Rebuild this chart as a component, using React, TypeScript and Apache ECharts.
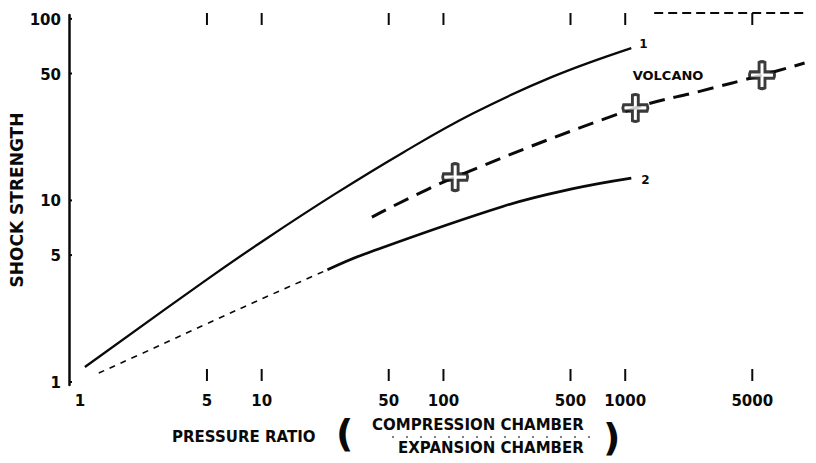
import React, { useEffect, useRef } from "react";
import * as echarts from "echarts";

// ---- data ----
const xTickValues = [5, 10, 50, 100, 500, 1000, 5000];
const xLabelValues = [1, 5, 10, 50, 100, 500, 1000, 5000];
const yLabelValues = [1, 5, 10, 50, 100];

const curve1: number[][] = [
  [1.065, 1.21], [4.92, 3.63], [10.4, 6.08], [25.1, 10.8], [60.4, 18.45],
  [145, 30.1], [396, 47.9], [1080, 69],
];
const curve2Faint: number[][] = [
  [1.27, 1.12], [2.63, 1.56], [4.92, 2.08], [10.4, 2.92], [23, 4.15],
];
const curve2: number[][] = [
  [23, 4.15], [36.6, 5.06], [212, 9.27], [509, 11.57], [1080, 13.27],
];
const volcanoCurve: number[][] = [
  [40.4, 8.1], [116, 13.45], [1137, 32.3], [2600, 40.0], [5657, 49.0], [9700, 57.1],
];
const volcanoPoints: number[][] = [[116, 13.45], [1137, 32.3], [5657, 49.0]];
const topFrame: number[][] = [[1443, 107.7], [11140, 107.7]];

const X_MIN = 0.871;
const X_MAX = 10000;
const Y_MIN = 0.963;
const Y_MAX = 105;

const FONT = "DejaVu Sans";
const INK = "#0a0a0a";

const plusPath =
  "path://M9,0 Q12,-1.5 15,0 L15,9 L24,9 Q25.5,12 24,15 L15,15 L15,24 Q12,25.5 9,24 L9,15 L0,15 Q-1.5,12 0,9 L9,9 Z";

export default function App() {
  const ref = useRef<HTMLDivElement>(null);

  useEffect(() => {
    if (!ref.current) return;
    const chart = echarts.init(ref.current, undefined, { renderer: "svg" });

    const option: any = {
      animation: false,
      backgroundColor: "#ffffff",
      grid: { left: 62, right: 9, top: 15, bottom: 78 },
      xAxis: {
        type: "log",
        logBase: 10,
        min: X_MIN,
        max: X_MAX,
        axisLine: { show: false, onZero: false },
        axisTick: { show: false },
        axisLabel: { show: false },
        splitLine: { show: false },
      },
      yAxis: {
        type: "log",
        logBase: 10,
        min: Y_MIN,
        max: Y_MAX,
        name: "SHOCK STRENGTH",
        nameLocation: "middle",
        nameRotate: 90,
        nameGap: 44,
        nameTextStyle: { fontFamily: FONT, fontWeight: "bold", fontSize: 17, color: INK },
        axisLine: { show: true, onZero: false, lineStyle: { color: INK, width: 2.5 } },
        axisTick: { show: false },
        axisLabel: { show: false },
        splitLine: { show: false },
      },
      series: [
        {
          type: "line",
          data: curve1,
          smooth: 0.4,
          symbol: "none",
          lineStyle: { color: INK, width: 2.3 },
          endLabel: {
            show: true,
            formatter: "1",
            offset: [0, -4],
            fontFamily: FONT,
            fontWeight: "bold",
            fontSize: 12,
            color: INK,
          },
        },
        {
          type: "line",
          data: curve2Faint,
          smooth: 0.4,
          symbol: "none",
          lineStyle: { color: INK, width: 1.6, type: [6, 6] },
        },
        {
          type: "line",
          data: curve2,
          smooth: 0.4,
          symbol: "none",
          lineStyle: { color: INK, width: 2.7 },
          endLabel: {
            show: true,
            formatter: "2",
            offset: [2, 2],
            fontFamily: FONT,
            fontWeight: "bold",
            fontSize: 12,
            color: INK,
          },
        },
        {
          type: "line",
          data: volcanoCurve,
          smooth: 0.4,
          symbol: "none",
          lineStyle: { color: INK, width: 3, type: [16, 9] },
          markPoint: {
            symbol: "circle",
            symbolSize: 0,
            data: [
              {
                coord: [1720, 49],
                label: {
                  show: true,
                  formatter: "VOLCANO",
                  position: "inside",
                  fontFamily: FONT,
                  fontWeight: "bold",
                  fontSize: 13,
                  color: INK,
                },
              },
            ],
          },
        },
        {
          type: "scatter",
          data: volcanoPoints,
          symbol: plusPath,
          symbolSize: [25, 27],
          z: 5,
          itemStyle: { color: "#ffffff", borderColor: INK, borderWidth: 3 },
        },
        {
          type: "line",
          data: topFrame,
          symbol: "none",
          clip: false,
          lineStyle: { color: INK, width: 2, type: [9, 5] },
        },
        {
          type: "custom",
          clip: false,
          data: xLabelValues.map((v) => [v, Y_MIN]),
          renderItem: (params: any, api: any) => {
            const v = api.value(0);
            const b = api.coord([v, Y_MIN]);
            const t = api.coord([v, Y_MAX]);
            const children: any[] = [
              {
                type: "text",
                style: {
                  text: String(v),
                  x: b[0],
                  y: b[1] + 16,
                  align: "center",
                  verticalAlign: "middle",
                  fontFamily: FONT,
                  fontWeight: "bold",
                  fontSize: 15,
                  fill: INK,
                },
              },
            ];
            if (xTickValues.indexOf(v) >= 0) {
              children.push({
                type: "line",
                shape: { x1: b[0], y1: b[1] - 4, x2: b[0], y2: b[1] - 16 },
                style: { stroke: INK, lineWidth: 2 },
              });
              children.push({
                type: "line",
                shape: { x1: t[0], y1: t[1] - 2, x2: t[0], y2: t[1] + 10 },
                style: { stroke: INK, lineWidth: 2 },
              });
            }
            return { type: "group", children };
          },
        },
        {
          type: "custom",
          clip: false,
          data: yLabelValues.map((v) => [X_MIN, v]),
          renderItem: (params: any, api: any) => {
            const v = api.value(1);
            const p = api.coord([X_MIN, v]);
            return {
              type: "group",
              children: [
                {
                  type: "text",
                  style: {
                    text: String(v),
                    x: p[0] - 8,
                    y: p[1] + 1,
                    align: "right",
                    verticalAlign: "middle",
                    fontFamily: FONT,
                    fontWeight: "bold",
                    fontSize: 15,
                    fill: INK,
                  },
                },
                {
                  type: "line",
                  shape: { x1: p[0], y1: p[1], x2: p[0] + 3, y2: p[1] },
                  style: { stroke: INK, lineWidth: 2 },
                },
              ],
            };
          },
        },
      ],
      graphic: [
        {
          type: "text",
          left: 172,
          top: 429,
          style: {
            text: "PRESSURE RATIO",
            fontFamily: FONT,
            fontWeight: "bold",
            fontSize: 15,
            fill: INK,
          },
        },
        {
          type: "text",
          left: 336,
          top: 414,
          style: {
            text: "(",
            fontFamily: FONT,
            fontWeight: "bold",
            fontSize: 38,
            fill: INK,
          },
        },
        {
          type: "text",
          left: 372,
          top: 417,
          style: {
            text: "COMPRESSION CHAMBER",
            fontFamily: FONT,
            fontWeight: "bold",
            fontSize: 15,
            fill: INK,
          },
        },
        {
          type: "line",
          shape: { x1: 392, y1: 437, x2: 592, y2: 437 },
          style: { stroke: "#555", lineWidth: 1.5, lineDash: [2, 12] },
        },
        {
          type: "text",
          left: 398,
          top: 440,
          style: {
            text: "EXPANSION CHAMBER",
            fontFamily: FONT,
            fontWeight: "bold",
            fontSize: 15,
            fill: INK,
          },
        },
        {
          type: "text",
          left: 603,
          top: 418,
          style: {
            text: ")",
            fontFamily: FONT,
            fontWeight: "bold",
            fontSize: 38,
            fill: INK,
          },
        },
      ],
    };

    chart.setOption(option);
    return () => chart.dispose();
  }, []);

  return (
    <div
      ref={ref}
      style={{ position: "fixed", left: 0, top: 0, width: 816, height: 463, background: "#fff" }}
    />
  );
}
